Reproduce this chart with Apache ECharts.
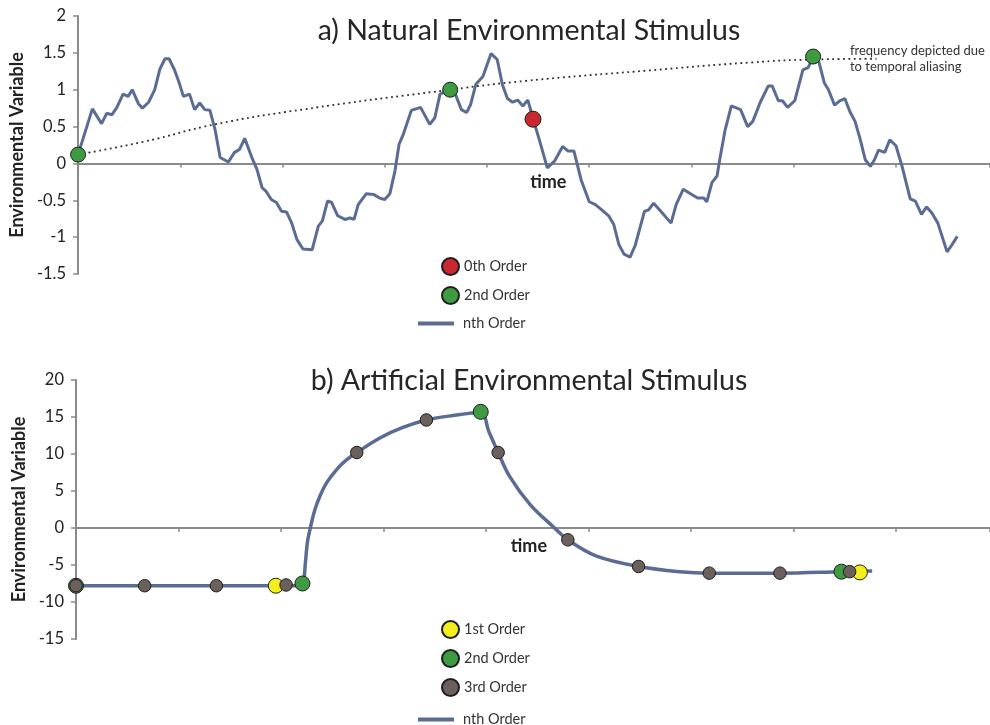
<!DOCTYPE html>
<html>
<head>
<meta charset="utf-8">
<script src="https://cdn.jsdelivr.net/npm/echarts@6/dist/echarts.min.js"></script>
<style>
  html, body { margin: 0; padding: 0; background: #fff; }
  #chart { width: 990px; height: 725px; }
</style>
</head>
<body>
<div id="chart"></div>
<script>
// ---------- Data ----------
const titleA = 'a) Natural Environmental Stimulus';
const titleB = 'b) Artificial Environmental Stimulus';
const yTicksA = { min: -1.5, max: 2, interval: 0.5 };
const yTicksB = { min: -15, max: 20, interval: 5 };
const timeMax = 89.2;

// natural stimulus (panel a), nth order line
const natTime = [0,1.4,2.3,2.8,3.3,3.8,4.4,4.9,5.3,5.9,
  6.3,6.9,7.5,8.0,8.5,8.9,9.4,9.9,10.3,10.9,
  11.4,11.9,12.4,12.9,13.4,13.9,14.7,15.3,15.8,16.3,
  17.0,17.5,18.0,18.4,18.9,19.4,19.9,20.4,20.9,21.4,
  22.0,22.9,23.5,23.9,24.4,24.8,25.4,26.1,26.6,27.0,
  27.4,28.2,28.9,29.5,30.0,30.5,31.0,31.4,31.8,32.6,
  33.5,34.4,34.9,35.4,36.4,36.9,37.5,38.0,38.4,38.9,
  39.6,40.4,41.0,41.5,42.0,42.5,43.0,43.5,44.0,44.5,
  45.1,45.9,46.6,47.4,47.9,48.5,49.2,50.0,50.6,51.4,
  51.9,52.4,52.9,53.4,54.0,54.5,55.4,55.8,56.3,57.0,
  58.0,58.5,59.2,59.9,60.6,61.2,61.5,62.0,62.5,62.8,
  63.3,63.9,64.8,65.5,66.0,66.7,67.5,67.9,68.5,68.9,
  69.4,70.1,70.9,71.4,71.9,72.4,73.0,73.4,74.0,74.5,
  75.0,75.5,76.0,76.5,77.0,77.5,77.9,78.3,78.9,79.4,
  80.0,80.6,81.4,81.9,82.5,83.0,83.5,84.1,85.0,85.4,
  86.0];
const natValue = [0.12,0.74,0.54,0.68,0.66,0.76,0.94,0.91,1.0,0.81,
  0.75,0.83,1.0,1.28,1.42,1.42,1.28,1.09,0.91,0.94,
  0.73,0.82,0.73,0.72,0.46,0.08,0.02,0.15,0.19,0.34,
  0.08,-0.08,-0.33,-0.38,-0.49,-0.53,-0.65,-0.66,-0.81,-1.03,
  -1.16,-1.17,-0.85,-0.78,-0.51,-0.53,-0.71,-0.76,-0.74,-0.76,
  -0.56,-0.41,-0.42,-0.47,-0.49,-0.41,-0.10,0.26,0.39,0.72,
  0.76,0.53,0.62,0.94,1.0,0.94,0.73,0.69,0.80,1.07,
  1.18,1.49,1.41,1.07,0.88,0.83,0.86,0.78,0.86,0.61,
  0.33,-0.06,0.03,0.23,0.17,0.17,-0.22,-0.52,-0.56,-0.65,
  -0.71,-0.83,-1.10,-1.23,-1.27,-1.11,-0.65,-0.63,-0.54,-0.65,
  -0.81,-0.56,-0.35,-0.41,-0.47,-0.47,-0.52,-0.26,-0.17,0.08,
  0.46,0.78,0.73,0.50,0.57,0.82,1.05,1.05,0.85,0.85,
  0.76,0.85,1.27,1.30,1.43,1.41,1.09,1.0,0.79,0.85,
  0.88,0.70,0.57,0.33,0.05,-0.04,0.05,0.18,0.15,0.32,
  0.24,-0.04,-0.48,-0.51,-0.69,-0.59,-0.67,-0.81,-1.20,-1.12,
  -0.99];

// dotted aliasing curve (panel a)
const aliasTime = [0,6.6,13.4,21.9,36.4,43.8,55.7,65.8,71.9,78.1];
const aliasValue = [0.12,0.30,0.53,0.73,1.0,1.12,1.26,1.37,1.41,1.42];

// sampled points (panel a)
const natZeroTime = [44.5];
const natZeroValue = [0.60];
const natSecondTime = [0, 36.4, 71.9];
const natSecondValue = [0.12, 1.0, 1.45];

// artificial stimulus (panel b), nth order line
const artTime = [0,22.0,22.2,22.4,22.6,22.9,23.3,23.8,24.5,25.5,26.4,27.4,
  29.7,31.9,34.2,36.8,39.5,40.3,41.2,42.3,44.3,46.7,
  48.0,50.8,54.9,58.9,61.8,68.7,74.7,77.7];
const artValue = [-7.8,-7.8,-7.4,-4.5,-1.8,0.2,2.4,4.3,6.2,8.0,9.2,10.2,
  12.2,13.6,14.6,15.2,15.6,13.0,10.2,7.0,3.2,0.0,
  -1.6,-3.8,-5.2,-5.9,-6.1,-6.1,-5.9,-5.8];

// sampled points (panel b)
const artFirstTime = [19.5, 76.5];
const artFirstValue = [-7.8, -6.0];
const artSecondTime = [0, 22.1, 39.5, 74.7];
const artSecondValue = [-7.8, -7.5, 15.7, -5.9];
const artThirdTime = [0, 6.7, 13.7, 20.5, 27.4, 34.2, 41.2, 48.0, 54.9, 61.8, 68.7, 75.5];
const artThirdValue = [-7.8, -7.8, -7.8, -7.7, 10.2, 14.6, 10.2, -1.6, -5.2, -6.1, -6.1, -5.9];

const timeLabelAt = [46.0, 44.2];   // x (time units) where the axis name "time" is centred
const annotation = ['frequency depicted due', 'to temporal aliasing'];
const annotationAt = [75.5, 1.63];  // data position of annotation's top-left

// ---------- Styles ----------
const FONT = 'Lato, "Open Sans", sans-serif';
const LINE = '#5b6c94';
const AXIS = '#8a8a8a';
const RED = '#c8282e';
const GREEN = '#3f9b42';
const YELLOW = '#f3ef1c';
const BROWN = '#6b605b';
const BORDER = '#1e1e1e';

const zip = (a, b) => a.map((v, i) => [v, b[i]]);

function xAxisFor(gridIndex) {
  return {
    type: 'value', gridIndex: gridIndex, min: 0, max: timeMax, interval: 10,
    axisLine: { onZero: true, lineStyle: { color: AXIS, width: 2 } },
    axisTick: { show: true, length: 4, lineStyle: { color: AXIS, width: 1.5 } },
    axisLabel: { show: false },
    splitLine: { show: false }
  };
}
function yAxisFor(gridIndex, t) {
  return {
    type: 'value', gridIndex: gridIndex, min: t.min, max: t.max, interval: t.interval,
    name: 'Environmental Variable', nameLocation: 'middle', nameGap: 44,
    nameTextStyle: { fontFamily: FONT, fontSize: 18, fontWeight: 'bold', color: '#222' },
    axisLine: { show: true, lineStyle: { color: AXIS, width: 2 } },
    axisTick: { show: true, length: 5, lineStyle: { color: AXIS, width: 1.5 } },
    axisLabel: { fontFamily: FONT, fontSize: 16.5, color: '#222', margin: 12 },
    splitLine: { show: false }
  };
}
function dots(name, xi, data, color, size, z) {
  return {
    name: name, type: 'scatter', xAxisIndex: xi, yAxisIndex: xi, data: data,
    symbol: 'circle', symbolSize: size, z: z,
    itemStyle: { color: color, borderColor: BORDER, borderWidth: 1, opacity: 1 }
  };
}
const legendText = (pad) => ({ fontFamily: FONT, fontSize: 14.5, color: '#333', padding: [0, 0, 0, pad] });

const chart = echarts.init(document.getElementById('chart'), null, { renderer: 'canvas' });
chart.setOption({
  animation: false,
  backgroundColor: '#fff',
  textStyle: { fontFamily: FONT },
  title: [
    { text: titleA, left: 524, top: 11, textAlign: 'center',
      textStyle: { fontFamily: FONT, fontSize: 28.5, fontWeight: 'normal', color: '#262626' } },
    { text: titleB, left: 524, top: 361, textAlign: 'center',
      textStyle: { fontFamily: FONT, fontSize: 28.5, fontWeight: 'normal', color: '#262626' } }
  ],
  grid: [
    { left: 76, right: 0, top: 16, height: 258 },
    { left: 76, right: 0, top: 380, height: 259 }
  ],
  xAxis: [xAxisFor(0), xAxisFor(1)],
  yAxis: [yAxisFor(0, yTicksA), yAxisFor(1, yTicksB)],
  legend: [
    { data: ['0th Order', '2nd Order'], orient: 'vertical', left: 436, top: 252,
      icon: 'circle', itemWidth: 17, itemHeight: 17, itemGap: 10, textStyle: legendText(0) },
    { data: [{ name: 'nth Order', icon: 'rect' }], orient: 'vertical', left: 413, top: 311,
      itemWidth: 36, itemHeight: 4, textStyle: legendText(4) },
    { data: ['1st Order', '2nd Order', '3rd Order'], orient: 'vertical', left: 436, top: 615,
      icon: 'circle', itemWidth: 17, itemHeight: 17, itemGap: 10, textStyle: legendText(0) },
    { data: [{ name: 'nth Order', icon: 'rect' }], orient: 'vertical', left: 413, top: 707,
      itemWidth: 36, itemHeight: 4, textStyle: legendText(4) }
  ],
  series: [
    { name: 'nth Order', type: 'line', xAxisIndex: 0, yAxisIndex: 0,
      data: zip(natTime, natValue), showSymbol: false, symbol: 'none', z: 2,
      itemStyle: { color: LINE }, lineStyle: { color: LINE, width: 3 } },
    { name: 'aliasing', type: 'line', xAxisIndex: 0, yAxisIndex: 0,
      data: zip(aliasTime, aliasValue), smooth: true, showSymbol: false, symbol: 'none', z: 3,
      lineStyle: { color: '#2a2a2a', width: 1.8, type: [1.8, 3.6] } },
    dots('0th Order', 0, zip(natZeroTime, natZeroValue), RED, 16, 5),
    dots('2nd Order', 0, zip(natSecondTime, natSecondValue), GREEN, 15, 5),

    { name: 'nth Order', type: 'line', xAxisIndex: 1, yAxisIndex: 1,
      data: zip(artTime, artValue), smooth: 0.35, showSymbol: false, symbol: 'none', z: 2,
      itemStyle: { color: LINE }, lineStyle: { color: LINE, width: 3.5 } },
    dots('2nd Order', 1, zip(artSecondTime, artSecondValue), GREEN, 15, 4),
    dots('1st Order', 1, zip(artFirstTime, artFirstValue), YELLOW, 15, 5),
    dots('3rd Order', 1, zip(artThirdTime, artThirdValue), BROWN, 12.5, 6)
  ]
});

// axis names "time" sit just below the zero line, and the annotation text
const pTop = chart.convertToPixel({ gridIndex: 0 }, [timeLabelAt[0], 0]);
const pBot = chart.convertToPixel({ gridIndex: 1 }, [timeLabelAt[1], 0]);
const pAnn = chart.convertToPixel({ gridIndex: 0 }, annotationAt);
const timeStyle = { text: 'time', fontFamily: FONT, fontSize: 18, fontWeight: 'bold', fill: '#222',
  textAlign: 'center', textVerticalAlign: 'middle' };
chart.setOption({
  graphic: [
    { type: 'text', x: pTop[0], y: pTop[1] + 19, z: 10, style: Object.assign({}, timeStyle) },
    { type: 'text', x: pBot[0], y: pBot[1] + 18, z: 10, style: Object.assign({}, timeStyle) },
    { type: 'text', x: pAnn[0], y: pAnn[1], z: 10,
      style: { text: annotation.join('\n'), fontFamily: FONT, fontSize: 13, lineHeight: 15.5, fill: '#333' } }
  ]
});
</script>
</body>
</html>
